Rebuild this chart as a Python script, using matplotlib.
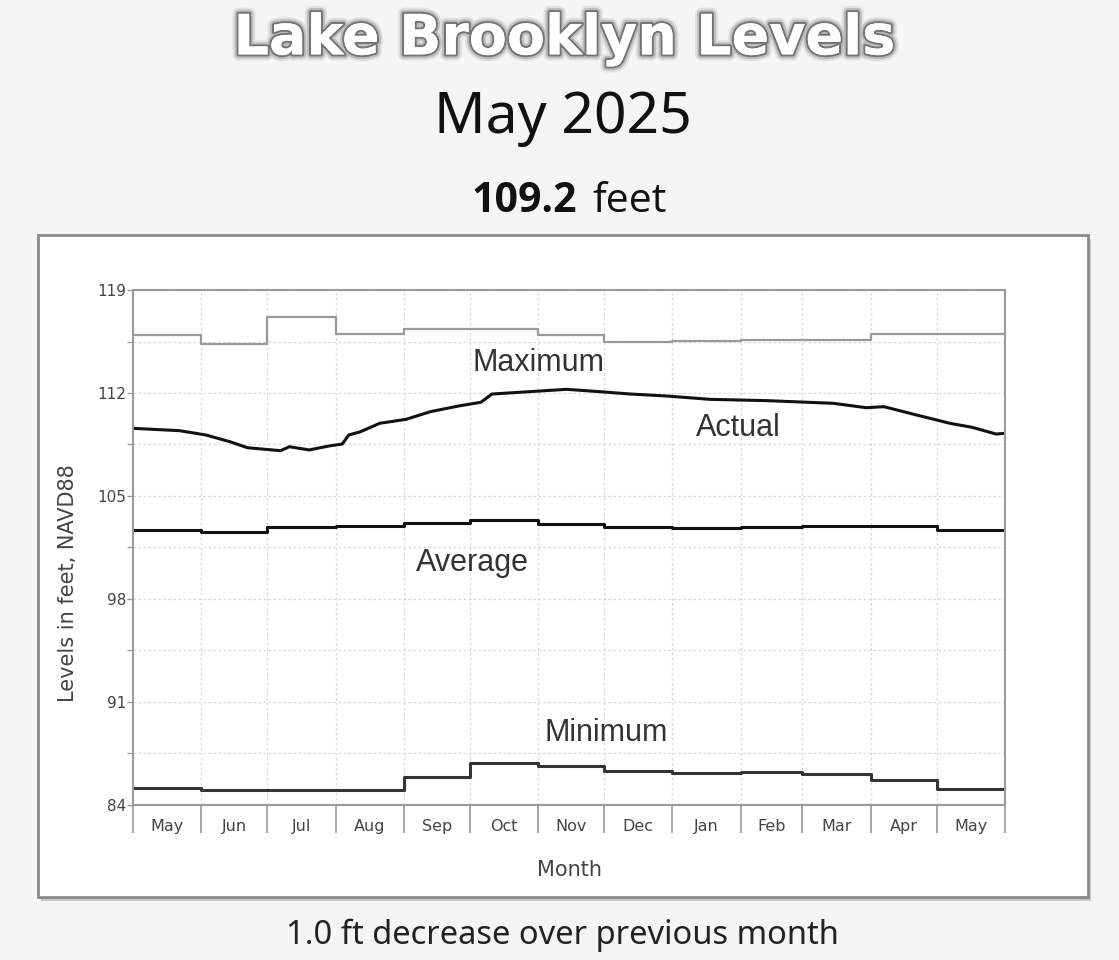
import matplotlib
matplotlib.use('Agg')
import matplotlib.pyplot as plt
import matplotlib.patheffects as pe
from matplotlib.patches import Rectangle
import pandas as pd


# 月份标签 (2024年5月 - 2025年5月)
month_labels = ['May', 'Jun', 'Jul', 'Aug', 'Sep', 'Oct', 'Nov',
                'Dec', 'Jan', 'Feb', 'Mar', 'Apr', 'May']
month_starts = pd.date_range('2024-05-01', periods=14, freq='MS')

# 每月历史最高 / 平均 / 最低水位 (feet, NAVD88)
max_levels = [115.94, 115.31, 117.15, 116.01, 116.35, 116.35, 115.94,
              115.49, 115.53, 115.60, 115.60, 115.99, 115.99]
avg_levels = [102.69, 102.57, 102.87, 102.96, 103.19, 103.37, 103.08,
              102.91, 102.80, 102.87, 102.98, 102.98, 102.69]
min_levels = [85.13, 85.02, 85.02, 85.02, 85.88, 86.88, 86.67,
              86.33, 86.20, 86.26, 86.08, 85.68, 85.10]

# 实际水位
actual_dates = ['2024-05-01', '2024-05-22', '2024-06-03', '2024-06-14',
                '2024-06-22', '2024-07-07', '2024-07-11', '2024-07-20',
                '2024-07-29', '2024-08-04', '2024-08-07', '2024-08-12',
                '2024-08-21', '2024-09-02', '2024-09-13', '2024-09-26',
                '2024-10-06', '2024-10-11', '2024-10-28', '2024-11-14',
                '2024-11-29', '2024-12-13', '2024-12-29', '2025-01-18',
                '2025-02-13', '2025-03-15', '2025-03-30', '2025-04-07',
                '2025-04-22', '2025-05-07', '2025-05-17', '2025-05-28',
                '2025-06-01']
actual_levels = [109.60, 109.44, 109.15, 108.69, 108.28, 108.08, 108.35,
                 108.13, 108.40, 108.53, 109.15, 109.35, 109.94, 110.21,
                 110.73, 111.12, 111.37, 111.93, 112.09, 112.25, 112.09,
                 111.93, 111.80, 111.57, 111.48, 111.30, 111.00, 111.07,
                 110.50, 109.94, 109.67, 109.21, 109.26]

y_major = [84, 91, 98, 105, 112, 119]
y_minor = [87.5, 94.5, 101.5, 108.5, 115.5]

GRAY = '#9a9a9a'
TEXT = '#444444'


def steps(values):
    # 阶梯线需要在最后补一个点
    return list(values) + [values[-1]]


fig = plt.figure(figsize=(11.19, 9.6), dpi=100, facecolor='#f5f5f5')

# 图表外框 + 阴影
fig.add_artist(Rectangle((0.037, 0.061), 0.938, 0.690, transform=fig.transFigure,
                         facecolor='#c8c8c8', edgecolor='none', zorder=0))
fig.add_artist(Rectangle((0.034, 0.0656), 0.938, 0.6896, transform=fig.transFigure,
                         facecolor='white', edgecolor='#8a8a8a', linewidth=2, zorder=0))

ax = fig.add_axes([0.1189, 0.1615, 0.7792, 0.5364])
ax.set_facecolor('white')

ax.step(month_starts, steps(max_levels), where='post', color=GRAY, linewidth=1.6)
ax.step(month_starts, steps(avg_levels), where='post', color='#111111', linewidth=2.2)
ax.step(month_starts, steps(min_levels), where='post', color='#333333', linewidth=2.2)
ax.plot(pd.to_datetime(actual_dates), actual_levels, color='#111111', linewidth=2.2)

ax.set_xlim(month_starts[0], month_starts[-1])
ax.set_ylim(84, 119)

# y 轴刻度
ax.set_yticks(y_major)
ax.set_yticks(y_minor, minor=True)
ax.set_yticklabels([str(v) for v in y_major])
ax.tick_params(axis='y', which='both', direction='out', length=4, width=1,
               color=GRAY, labelsize=11, labelcolor=TEXT, pad=1)

# x 轴: 月份分隔线 + 居中的月份名
mids = [month_starts[i] + (month_starts[i + 1] - month_starts[i]) / 2 for i in range(13)]
ax.set_xticks(month_starts)
ax.set_xticklabels([''] * len(month_starts))
ax.set_xticks(mids, minor=True)
ax.set_xticklabels(month_labels, minor=True)
ax.tick_params(axis='x', which='major', direction='out', length=20, width=1.2, color=GRAY)
ax.tick_params(axis='x', which='minor', length=0, pad=10, labelsize=11.5, labelcolor=TEXT)

ax.grid(axis='x', which='major', color='#d8d8d8', linestyle=(0, (2, 2)), linewidth=0.9)
ax.grid(axis='y', which='both', color='#d8d8d8', linestyle=(0, (2, 2)), linewidth=0.9)

for side in ['left', 'right', 'top', 'bottom']:
    ax.spines[side].set_color(GRAY)
    ax.spines[side].set_linewidth(1.5)

ax.set_xlabel('Month', fontsize=15, color=TEXT, labelpad=16)
ax.text(-0.075, 0.43, 'Levels in feet, NAVD88', transform=ax.transAxes, rotation=90,
        ha='center', va='center', fontsize=15, color=TEXT)

# 曲线名称
label_font = dict(fontsize=22, color='#333333', ha='center', va='center',
                  family='Liberation Sans')
ax.text(pd.Timestamp('2024-11-01'), 114.05, 'Maximum', **label_font)
ax.text(pd.Timestamp('2025-01-31'), 109.62, 'Actual', **label_font)
ax.text(pd.Timestamp('2024-10-02'), 100.45, 'Average', **label_font)
ax.text(pd.Timestamp('2024-12-02'), 88.9, 'Minimum', **label_font)

# 标题
fig.text(0.504, 0.959, 'Lake Brooklyn Levels', ha='center', va='center',
         fontsize=40, fontweight='bold', color='white', family='DejaVu Sans',
         path_effects=[pe.withStroke(linewidth=9, foreground='#000000', alpha=0.08),
                       pe.withStroke(linewidth=6, foreground='#555555', alpha=0.25),
                       pe.withStroke(linewidth=3, foreground='#444444', alpha=0.6),
                       pe.Normal()])
fig.text(0.503, 0.877, 'May 2025', ha='center', va='center', fontsize=41,
         color='#111111', family='Noto Sans')
fig.text(0.516, 0.790, '109.2', ha='right', va='center', fontsize=29.5,
         fontweight='bold', color='#111111', family='Open Sans')
fig.text(0.529, 0.790, 'feet', ha='left', va='center', fontsize=29.5,
         color='#111111', family='Open Sans')
fig.text(0.503, 0.026, '1.0 ft decrease over previous month', ha='center', va='center',
         fontsize=23.5, color='#222222', family='Noto Sans')

fig.savefig('out.png', dpi=100, facecolor=fig.get_facecolor())
